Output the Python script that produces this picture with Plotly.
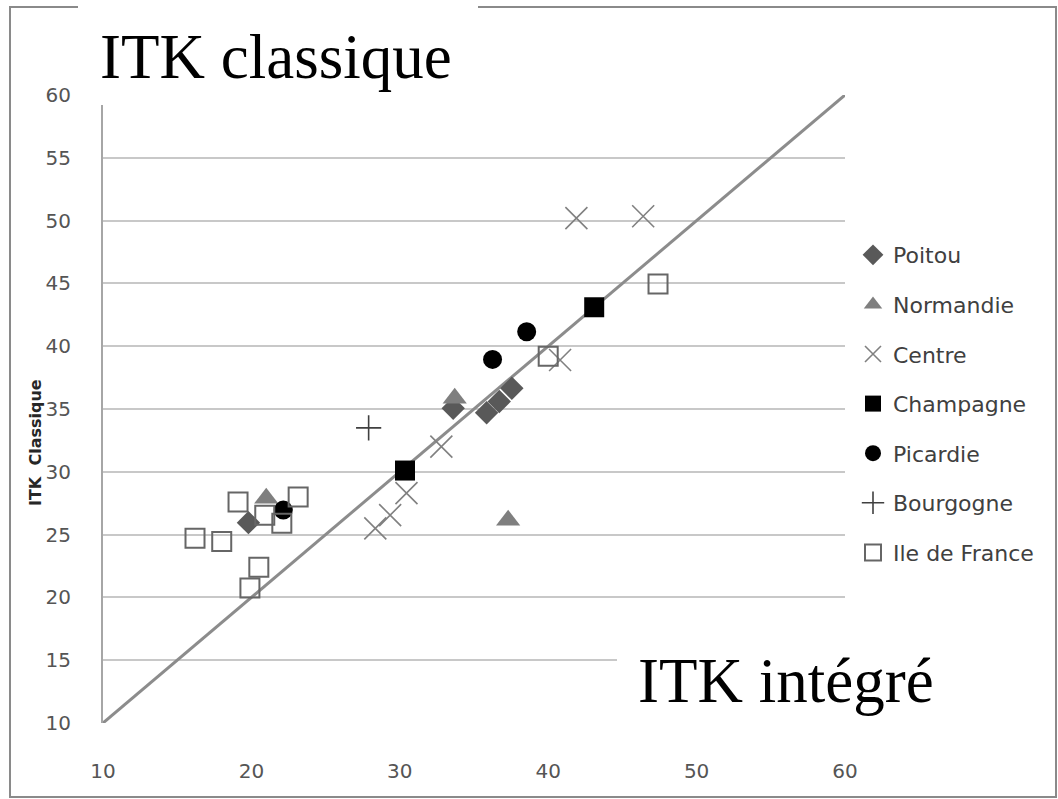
import plotly.graph_objects as go

# Rendement ITK intégré (x) vs ITK classique (y) par région
regions = ["Poitou", "Normandie", "Centre", "Champagne", "Picardie", "Bourgogne", "Ile de France"]

poitou_x = [19.8, 33.6, 35.85, 36.7, 37.55]
poitou_y = [25.95, 35.05, 34.7, 35.6, 36.65]

normandie_x = [21.0, 33.7, 37.3]
normandie_y = [27.9, 35.85, 26.15]

centre_x = [41.9, 46.4, 40.8, 32.8, 30.45, 29.35, 28.35]
centre_y = [50.2, 50.35, 38.9, 32.0, 28.3, 26.55, 25.5]

champagne_x = [30.35, 43.1]
champagne_y = [30.1, 43.1]

picardie_x = [22.15, 36.25, 38.55]
picardie_y = [26.95, 38.95, 41.15]

bourgogne_x = [27.9]
bourgogne_y = [33.5]

idf_x = [16.2, 18.0, 19.1, 20.9, 22.05, 23.15, 20.5, 19.9, 40.0, 47.4]
idf_y = [24.7, 24.45, 27.6, 26.55, 25.9, 28.0, 22.4, 20.75, 39.2, 44.95]

# droite 1:1
diag = [10, 60]

x_ticks = [10, 20, 30, 40, 50, 60]
y_ticks = [10, 15, 20, 25, 30, 35, 40, 45, 50, 55, 60]

series = [
    (poitou_x, poitou_y, dict(symbol="diamond", size=18, color="#595959")),
    (normandie_x, normandie_y, dict(symbol="triangle-up", size=21, color="#7f7f7f")),
    (centre_x, centre_y, dict(symbol="x-thin-open", size=22, color="#808080",
                              line=dict(color="#808080", width=1.6))),
    (champagne_x, champagne_y, dict(symbol="square", size=20, color="#000000")),
    (picardie_x, picardie_y, dict(symbol="circle", size=19, color="#000000")),
    (bourgogne_x, bourgogne_y, dict(symbol="cross-thin-open", size=18, color="#404040",
                                    line=dict(color="#404040", width=1.6))),
    (idf_x, idf_y, dict(symbol="square-open", size=19, color="#666666",
                        line=dict(color="#666666", width=2))),
]

fig = go.Figure()

fig.add_trace(go.Scatter(x=diag, y=diag, mode="lines",
                         line=dict(color="#8c8c8c", width=3),
                         showlegend=False, hoverinfo="skip"))

for name, (xs, ys, mk) in zip(regions, series):
    fig.add_trace(go.Scatter(x=xs, y=ys, mode="markers", name=name,
                             marker=mk, legendgroup=name))

# conversion pixels -> coordonnées papier
L, R, T, B = 103, 845, 95, 723
def px(x):
    return (x - L) / (R - L)
def py(y):
    return (B - y) / (B - T)

sans = "DejaVu Sans, Verdana, sans-serif"
tick_font = dict(family=sans, size=20, color="#555555")

fig.update_layout(
    width=1058, height=799,
    margin=dict(l=L, r=1058 - R, t=T, b=799 - B),
    paper_bgcolor="white", plot_bgcolor="white",
    xaxis=dict(range=[10, 60], tickvals=x_ticks, showgrid=False, zeroline=False,
               showline=False, ticks="outside", ticklen=0, ticklabelstandoff=30,
               tickfont=tick_font, fixedrange=True),
    yaxis=dict(range=[10, 60], tickvals=y_ticks, showgrid=True,
               gridcolor="#c8c8c8", gridwidth=2, zeroline=False,
               showline=True, linecolor="#a6a6a6", linewidth=2,
               ticks="outside", ticklen=0, ticklabelstandoff=26,
               tickfont=tick_font, fixedrange=True),
    legend=dict(x=px(853), y=py(234), xanchor="left", yanchor="top",
                font=dict(family=sans, size=22, color="#404040"),
                tracegroupgap=18, bgcolor="rgba(0,0,0,0)"),
    showlegend=True,
    shapes=[
        # cadre du graphique
        dict(type="rect", xref="paper", yref="paper",
             x0=px(10), x1=px(1056), y0=py(7), y1=py(797),
             line=dict(color="#8a8a8a", width=2), layer="below"),
        # encarts blancs des titres
        dict(type="rect", xref="paper", yref="paper",
             x0=px(78), x1=px(478), y0=py(0), y1=py(105),
             fillcolor="white", line=dict(width=0), layer="above"),
        dict(type="rect", xref="paper", yref="paper",
             x0=px(617), x1=px(960), y0=py(630), y1=py(745),
             fillcolor="white", line=dict(width=0), layer="above"),
    ],
    annotations=[
        dict(text="ITK classique", xref="paper", yref="paper",
             x=px(98), y=py(57), xanchor="left", yanchor="middle", showarrow=False,
             font=dict(family="Liberation Serif, Times New Roman, serif", size=63, color="black")),
        dict(text="ITK intégré", xref="paper", yref="paper",
             x=px(636), y=py(681), xanchor="left", yanchor="middle", showarrow=False,
             font=dict(family="Liberation Serif, Times New Roman, serif", size=63, color="black")),
        dict(text="<b>ITK  Classique</b>", xref="paper", yref="paper",
             x=px(35), y=py(443), xanchor="center", yanchor="middle", showarrow=False,
             textangle=-90,
             font=dict(family=sans, size=16, color="#262626")),
    ],
)

fig.write_html("out.html")
